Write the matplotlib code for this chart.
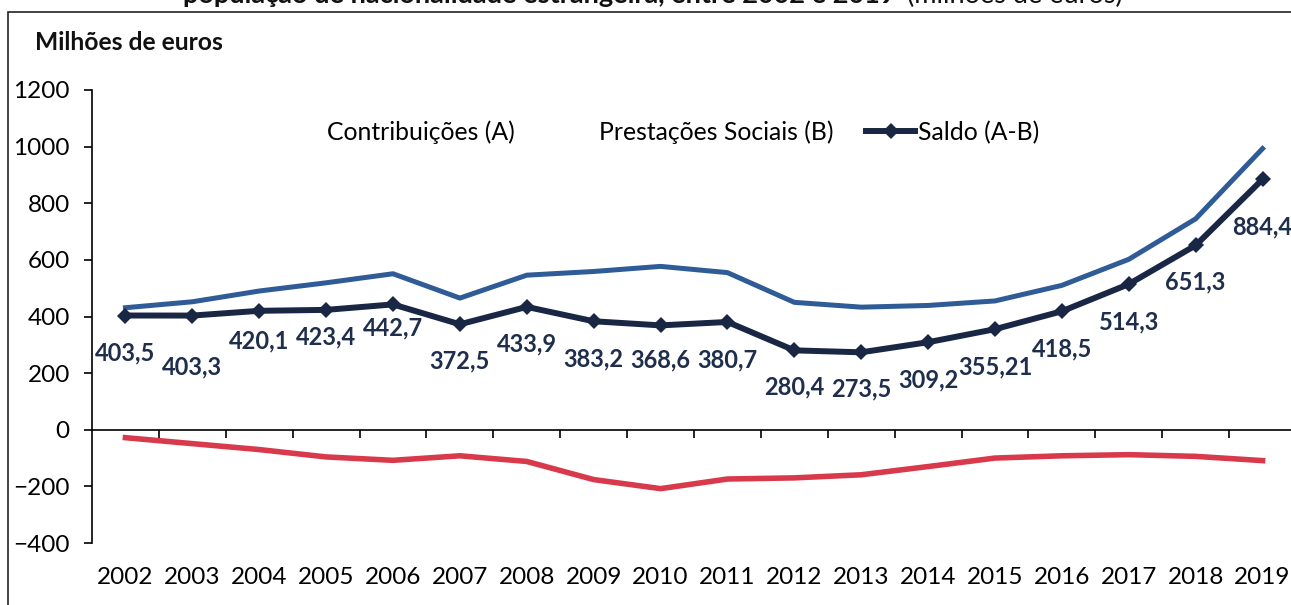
import matplotlib
matplotlib.use("Agg")
import matplotlib.pyplot as plt
from matplotlib.lines import Line2D
from matplotlib.patches import Rectangle

# valores (milhões de euros)
anos = [str(a) for a in range(2002, 2020)]
contribuicoes = [431, 452, 490, 519, 551, 465, 546, 559, 577, 555,
                 450, 433, 439, 455, 510, 602, 745, 993]
prestacoes = [-28, -49, -70, -96, -108, -92, -112, -176, -208, -174,
              -170, -159, -130, -100, -92, -88, -94, -109]
saldo = [403.5, 403.3, 420.1, 423.4, 442.7, 372.5, 433.9, 383.2, 368.6, 380.7,
         280.4, 273.5, 309.2, 355.21, 418.5, 514.3, 651.3, 884.4]
saldo_txt = ["403,5", "403,3", "420,1", "423,4", "442,7", "372,5", "433,9",
             "383,2", "368,6", "380,7", "280,4", "273,5", "309,2", "355,21",
             "418,5", "514,3", "651,3", "884,4"]
# deslocamento vertical dos rótulos (px abaixo do ponto)
label_dy = [37, 51, 30, 27, 24, 37, 37, 38, 35, 38, 37, 37, 38, 38, 38, 38, 37, 48]

AZUL = "#2F5B96"
VERMELHO = "#D93A4B"
NAVY = "#1A2744"
TXT = "#1F2E4C"

plt.rcParams["font.family"] = ["Lato", "DejaVu Sans"]

W, H = 1291, 605
fig = plt.figure(figsize=(W / 100, H / 100), dpi=100)

# moldura do gráfico (só topo e esquerda visíveis)
fig.patches.append(Rectangle((8 / W, -0.1), 1.2, (H - 12) / H + 0.1,
                             transform=fig.transFigure, fill=False,
                             edgecolor="#222222", linewidth=1.2))

ax = fig.add_axes([92 / W, 62 / H, 1204 / W, 453 / H])
x = list(range(len(anos)))

ax.plot(x, contribuicoes, color=AZUL, linewidth=3.6)
ax.plot(x, prestacoes, color=VERMELHO, linewidth=4.0)
ax.plot(x, saldo, color=NAVY, linewidth=4.3, marker="D", markersize=8.5,
        markeredgewidth=0)

for xi, v, t, dy in zip(x, saldo, saldo_txt, label_dy):
    ax.annotate(t, (xi, v), xytext=(0, -dy * 0.72), textcoords="offset points",
                ha="center", va="center", fontsize=17, fontweight="bold",
                color=TXT)

ax.set_xlim(-0.5, len(anos) - 0.5)
ax.set_ylim(-400, 1200)
ax.set_yticks(range(-400, 1201, 200))
ax.tick_params(axis="y", direction="out", length=6, width=1.2, labelsize=17.5,
               pad=10)

ax.spines["right"].set_visible(False)
ax.spines["top"].set_visible(False)
ax.spines["left"].set_linewidth(1.2)
ax.spines["bottom"].set_position(("data", 0))
ax.spines["bottom"].set_linewidth(1.2)

ax.set_xticks(x)
ax.set_xticklabels(anos)
ax.set_xticks([i + 0.5 for i in x], minor=True)
ax.tick_params(axis="x", which="major", length=0, labelsize=17.5, pad=99)
ax.tick_params(axis="x", which="minor", direction="out", length=6, width=1.2)

# legenda (A e B sem símbolo visível, como no original)
handles = [Line2D([], [], color="none"),
           Line2D([], [], color="none"),
           Line2D([], [], color=NAVY, linewidth=4.3, marker="D", markersize=8.5,
                  markeredgewidth=0)]
fig.legend(handles, ["Contribuições (A)", "Prestações Sociais (B)", "Saldo (A-B)"],
           loc="center", bbox_to_anchor=(657 / W, 1 - 132 / H), ncol=3,
           frameon=False, fontsize=17.8, handlelength=2.0, handletextpad=0.12,
           columnspacing=1.3)

fig.text(35 / W, 1 - 42 / H, "Milhões de euros", fontsize=17.7,
         fontweight="bold", va="center", ha="left", color="#111111")

# título (cortado no topo da imagem)
fig.text(896 / W, 1 - 3 / H, "população de nacionalidade estrangeira, entre 2002 e 2019",
         fontsize=19.5, fontweight="bold", ha="right", va="baseline", color="#111111")
fig.text(907 / W, 1 - 3 / H, "(milhões de euros)", fontsize=19.5,
         ha="left", va="baseline", color="#111111")

fig.savefig("out.png", dpi=100)
